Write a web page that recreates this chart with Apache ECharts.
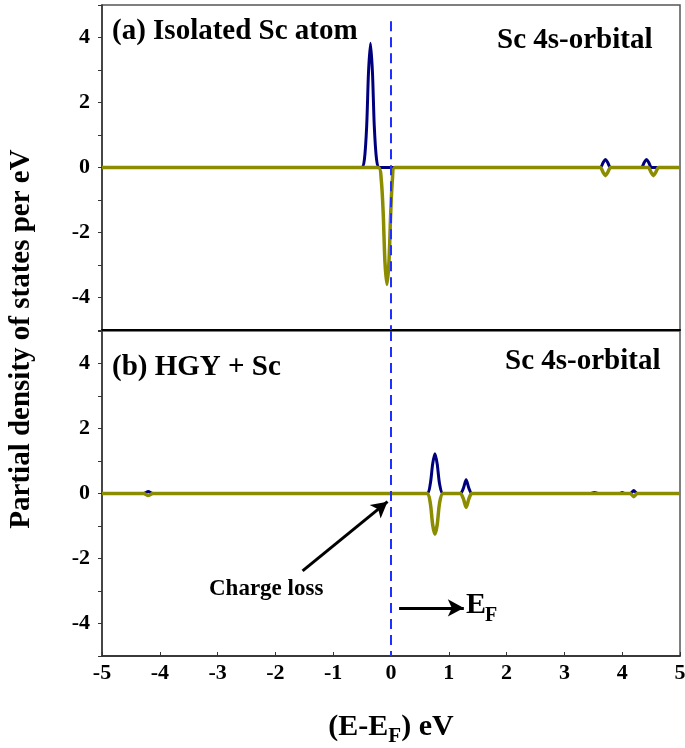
<!DOCTYPE html>
<html>
<head>
<meta charset="utf-8">
<script src="https://cdn.jsdelivr.net/npm/echarts@6/dist/echarts.min.js"></script>
<style>
html,body{margin:0;padding:0;background:#fff;}
#chart{width:685px;height:748px;}
</style>
</head>
<body>
<div id="chart"></div>
<script>
// ---- data ----
const xTickValues = [-5,-4,-3,-2,-1,0,1,2,3,4,5];
const yTickLabels = [-4,-2,0,2,4];
// (a) Isolated Sc atom - spin up (blue) and spin down (olive)
const isoUp = [[-5,0],[-0.51,0],[-0.46,0.25],[-0.42,1.3],[-0.39,2.9],[-0.355,3.82],[-0.32,2.9],[-0.29,1.3],[-0.25,0.25],[-0.2,0],
  [3.62,0],[3.67,0.15],[3.71,0.25],[3.75,0.15],[3.8,0],[4.33,0],[4.38,0.15],[4.42,0.25],[4.46,0.15],[4.51,0],[5,0]];
const isoDown = [[-5,0],[-0.22,0],[-0.17,-0.35],[-0.135,-1.4],[-0.105,-2.9],[-0.07,-3.6],[-0.035,-2.9],[-0.005,-1.4],[0.025,-0.35],[0.065,0],
  [3.62,0],[3.67,-0.15],[3.71,-0.25],[3.75,-0.15],[3.8,0],[4.45,0],[4.5,-0.15],[4.54,-0.25],[4.58,-0.15],[4.63,0],[5,0]];
// (b) HGY + Sc
const hgyUp = [[-5,0],[-4.28,0],[-4.2,0.06],[-4.12,0],[0.62,0],[0.68,0.3],[0.72,0.9],[0.76,1.22],[0.8,0.9],[0.84,0.3],[0.9,0],
  [1.2,0],[1.25,0.15],[1.3,0.42],[1.35,0.15],[1.4,0],[3.46,0],[3.52,0.03],[3.58,0],[3.95,0],[4.0,0.03],[4.05,0],
  [4.14,0],[4.2,0.09],[4.26,0],[5,0]];
const hgyDown = [[-5,0],[-4.28,0],[-4.2,-0.06],[-4.12,0],[0.62,0],[0.68,-0.3],[0.72,-0.95],[0.76,-1.25],[0.8,-0.95],[0.84,-0.3],[0.9,0],
  [1.2,0],[1.25,-0.15],[1.3,-0.42],[1.35,-0.15],[1.4,0],[4.14,0],[4.2,-0.1],[4.26,0],[5,0]];
// arrows (data coords)
const chargeArrow = [[-1.53,-2.38],[-0.06,-0.25]];
const efArrow = [[0.14,-3.52],[1.26,-3.52]];

const serif = '"Liberation Serif","DejaVu Serif",serif';
const blue = '#00007f';
const olive = '#8c8c00';
const fermi = '#1f2fff';

function yAxis(gi){
  return {
    gridIndex: gi, type:'value', min:-5, max:5, interval:1,
    axisLine:{show:true, onZero:false, lineStyle:{color:'#333', width:1.5}},
    axisTick:{show:true, length:4, lineStyle:{color:'#333'}},
    axisLabel:{customValues:yTickLabels, fontFamily:serif, fontWeight:'bold', fontSize:22, color:'#000', margin:12},
    splitLine:{show:false}
  };
}
function xAxis(gi, labels){
  return {
    gridIndex: gi, type:'value', min:-5, max:5, interval:1,
    axisLine:{show:true, onZero:false, lineStyle:{color: gi===0?'#000':'#222', width: gi===0?2:1.5}},
    axisTick:{show:labels, inside:true, length:4, lineStyle:{color:'#333'}},
    axisLabel:{show:labels, fontFamily:serif, fontWeight:'bold', fontSize:22, color:'#000', margin:6},
    splitLine:{show:false},
    name: labels ? '(E-E{sub|F}) eV' : '',
    nameLocation:'middle', nameGap:52,
    nameTextStyle:{fontFamily:serif, fontWeight:'bold', fontSize:30, color:'#000',
      rich:{sub:{fontFamily:serif, fontWeight:'bold', fontSize:21, color:'#000', verticalAlign:'bottom', padding:[18,0,0,0]}}}
  };
}
function fermiLine(top){
  return {
    silent:true, symbol:['none','none'], label:{show:false},
    lineStyle:{color:fermi, type:[10,6], width:2},
    data:[[{coord:[0,top]},{coord:[0,-5]}]]
  };
}
function line(data, color, gi, width, extra){
  return Object.assign({
    type:'line', xAxisIndex:gi, yAxisIndex:gi, data:data, showSymbol:false, symbol:'none',
    smooth:0.25, lineStyle:{color:color, width:width}, itemStyle:{color:color}, animation:false
  }, extra||{});
}

const chart = echarts.init(document.getElementById('chart'), null, {renderer:'canvas'});
chart.setOption({
  backgroundColor:'#fff',
  animation:false,
  grid:[
    {left:102, right:5, top:5, height:325, show:true, borderColor:'#555', borderWidth:1.5, outerBoundsMode:'none', containLabel:false},
    {left:102, right:5, top:331, height:325, show:true, borderColor:'#555', borderWidth:1.5, outerBoundsMode:'none', containLabel:false}
  ],
  xAxis:[xAxis(0,false), xAxis(1,true)],
  yAxis:[yAxis(0), yAxis(1)],
  series:[
    line(isoUp, blue, 0, 3, {markLine: fermiLine(4.5)}),
    line(isoDown, olive, 0, 3.5),
    line(hgyUp, blue, 1, 3, {markLine: fermiLine(5)}),
    line(hgyDown, olive, 1, 3.5, {markLine:{
      silent:true, symbol:['none','arrow'], symbolSize:[13,16], label:{show:false},
      lineStyle:{color:'#000', type:'solid', width:3},
      data:[
        [{coord:chargeArrow[0]},{coord:chargeArrow[1]}],
        [{coord:efArrow[0]},{coord:efArrow[1]}]
      ]}})
  ],
  graphic:[
    {type:'text', left:112, top:17, style:{text:'(a) Isolated Sc atom', font:'bold 29px '+serif, fill:'#000'}},
    {type:'text', left:497, top:26, style:{text:'Sc 4s-orbital', font:'bold 29px '+serif, fill:'#000'}},
    {type:'text', left:112, top:353, style:{text:'(b) HGY + Sc', font:'bold 29px '+serif, fill:'#000'}},
    {type:'text', left:505, top:347, style:{text:'Sc 4s-orbital', font:'bold 29px '+serif, fill:'#000'}},
    {type:'text', left:209, top:578, style:{text:'Charge loss', font:'bold 23px '+serif, fill:'#000'}},
    {type:'text', left:466, top:590, style:{text:'E', font:'bold 30px '+serif, fill:'#000'}},
    {type:'text', left:485, top:606, style:{text:'F', font:'bold 20px '+serif, fill:'#000'}},
    {type:'text', x:22, y:339, rotation:Math.PI/2, style:{text:'Partial density of states per eV', font:'bold 29px '+serif, fill:'#000', align:'center', verticalAlign:'middle'}}
  ]
});
</script>
</body>
</html>
